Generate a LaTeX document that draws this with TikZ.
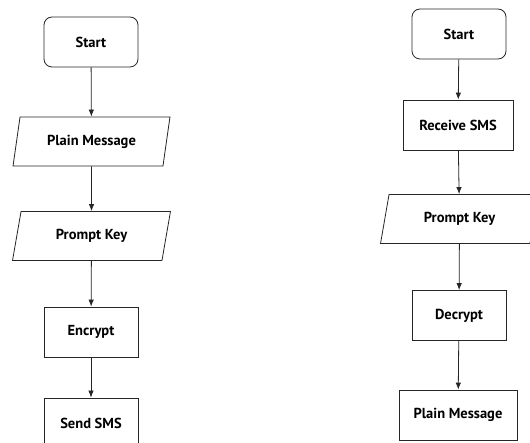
\documentclass[tikz,border=0pt]{standalone}
\usepackage{fontspec}
\setmainfont{PT Sans}
\usetikzlibrary{shapes.geometric,arrows.meta}
\begin{document}
\begin{tikzpicture}[x=1pt,y=-1pt,
  base/.style={draw=black!85,line width=0.8pt,font=\bfseries\fontsize{14.5}{16}\selectfont,inner sep=0pt,align=center},
  term/.style={base,rounded corners=8pt,minimum width=94pt,minimum height=50pt},
  proc/.style={base,minimum height=50pt},
  io/.style={base,trapezium,trapezium left angle=72,trapezium right angle=108,trapezium stretches=true,minimum width=158pt,minimum height=49pt},
  flow/.style={draw=black!85,line width=0.8pt,-{Latex[length=7pt,width=5.5pt]}}]
\useasboundingbox (0,0) rectangle (530,443);
\begin{scope}
\clip (0,0) rectangle (530,443);
% left column
\node[term] (ls) at (91,42) {Start};
\node[io] (lm) at (91.5,141.5) {Plain Message};
\node[io] (lk) at (91.5,236) {Prompt Key};
\node[proc,minimum width=94pt] (le) at (91,332) {Encrypt};
\node[proc,minimum width=94pt] (lsend) at (91,423) {Send SMS};
% right column
\node[term] (rs) at (459,34) {Start};
\node[proc,minimum width=110pt] (rr) at (458,125) {Receive SMS};
\node[io] (rk) at (459.5,219) {Prompt Key};
\node[proc,minimum width=94pt] (rd) at (459,315.5) {Decrypt};
\node[proc,minimum width=118pt] (rp) at (458,415) {Plain Message};
\end{scope}
\draw[flow] (ls) -- (lm);
\draw[flow] (lm) -- (lk);
\draw[flow] (lk) -- (le);
\draw[flow] (le) -- (lsend);
\draw[flow] (rs) -- (rr);
\draw[flow] (rr) -- (rk);
\draw[flow] (rk) -- (rd);
\draw[flow] (rd) -- (rp);
\end{tikzpicture}
\end{document}
